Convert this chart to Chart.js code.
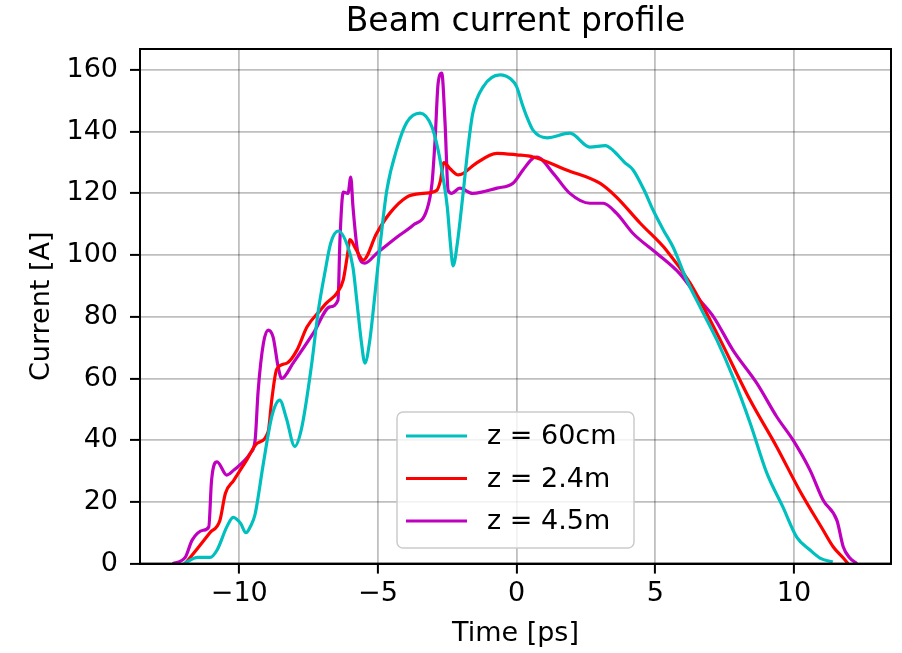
<!DOCTYPE html>
<html>
<head>
<meta charset="utf-8">
<script src="https://cdn.jsdelivr.net/npm/chart.js@4.4.1/dist/chart.umd.min.js"></script>
<style>
  html, body { margin: 0; padding: 0; background: #fff; }
</style>
</head>
<body>
<canvas id="beamChart" width="902" height="653"></canvas>
<script>
// time [ps] and current [A], one pair of arrays per z position
const time60cm = [-12.0, -11.5, -11.05, -10.8, -10.45, -10.22, -9.95, -9.76, -9.6, -9.43, -9.14, -8.82, -8.54, -8.3, -8.0, -7.75, -7.4, -7.15, -6.9, -6.7, -6.43, -6.08, -5.9, -5.76, -5.6, -5.47, -5.3, -5.1, -4.9, -4.68, -4.3, -3.96, -3.48, -3.05, -2.83, -2.65, -2.5, -2.38, -2.29, -2.15, -1.93, -1.75, -1.58, -1.2, -0.6, -0.2, 0.0, 0.2, 0.37, 0.59, 1.1, 1.92, 2.64, 3.2, 3.47, 3.9, 4.2, 4.6, 4.92, 5.3, 5.64, 6.13, 6.61, 7.22, 7.8, 8.42, 9.02, 9.6, 10.1, 10.58, 10.94, 11.4];
const current60cm = [0, 2, 2, 4.4, 11.9, 15, 13, 10, 12, 16, 32, 48, 53, 47, 38, 44, 64, 82, 95, 104, 107.8, 102.6, 96, 85, 72, 65, 72, 88, 105, 121, 135, 143, 146, 141.5, 134, 125, 115.6, 103, 96.5, 103, 120, 135, 146, 154.6, 158.4, 157, 154.6, 149, 144.8, 140.5, 138, 139.5, 135, 135.5, 134, 130, 127.6, 121, 114.6, 108, 102.6, 92, 83.3, 72.5, 60.5, 45.6, 29.4, 18.4, 8.6, 4.4, 1.8, 0.5];

const time2_4m = [-11.95, -11.5, -11.06, -10.7, -10.5, -10.2, -9.73, -9.36, -8.96, -8.83, -8.65, -8.28, -7.92, -7.56, -7.09, -6.85, -6.48, -6.25, -6.1, -6.01, -5.8, -5.53, -5.05, -4.57, -3.96, -3.37, -2.88, -2.75, -2.62, -2.4, -2.1, -1.92, -1.5, -0.71, 0.0, 0.6, 1.8, 3.0, 3.6, 4.45, 5.4, 6.25, 7.22, 8.42, 9.38, 10.2, 11.05, 11.42, 11.78, 11.95];
const current2_4m = [0, 5, 10, 14, 22.8, 27, 33.6, 39, 42.7, 53, 63, 65, 69.2, 76.7, 82, 84.5, 87.7, 92, 100, 105, 102, 98.4, 107, 113.6, 118.8, 120, 121, 124, 130, 128, 126, 126.5, 129.5, 133, 132.5, 131.8, 127.6, 123.3, 118.8, 110.4, 101.6, 91, 74.7, 53, 37.8, 23.8, 10.9, 5.4, 1.8, 0];

const time4_5m = [-12.4, -11.95, -11.7, -11.3, -11.1, -11.0, -10.8, -10.45, -10.2, -9.6, -9.43, -9.32, -9.13, -8.96, -8.78, -8.6, -8.47, -8.06, -7.33, -6.73, -6.44, -6.37, -6.25, -6.08, -5.98, -5.9, -5.72, -5.47, -5.04, -4.32, -3.73, -3.24, -3.05, -2.94, -2.83, -2.7, -2.58, -2.47, -2.34, -2.05, -1.58, -0.71, -0.13, 0.23, 0.6, 0.73, 1.32, 1.92, 2.64, 3.12, 3.6, 4.2, 5.05, 5.88, 6.61, 7.1, 7.8, 8.66, 9.38, 9.97, 10.58, 11.05, 11.55, 11.78, 12.0, 12.27];
const current4_5m = [0, 2, 7.6, 10.8, 11.9, 27, 33, 28.7, 30.3, 35.8, 40, 56, 71.4, 75.7, 73.4, 63.8, 60, 65, 74.7, 83.2, 85.4, 105, 120.4, 120, 125.3, 115.6, 100.6, 97.4, 100.6, 105.8, 109.7, 114.6, 123.3, 137.3, 155.7, 159, 142.8, 121, 120, 121.7, 120, 121.7, 123.3, 127.6, 131.5, 131.8, 126.5, 120, 116.8, 116.8, 113.6, 107, 100.6, 94, 85.4, 80, 69.2, 58.5, 47.6, 40, 30.3, 20.6, 14, 5.4, 2, 0];

const seriesLabels = ["z = 60cm", "z = 2.4m", "z = 4.5m"];
const xTicks = [-10, -5, 0, 5, 10];
const yTicks = [0, 20, 40, 60, 80, 100, 120, 140, 160];

const colors = ["#00bfbf", "#ff0000", "#bf00bf"];
const FONT = "DejaVu Sans";

const toPoints = (ts, is) => ts.map((t, i) => ({ x: t, y: is[i] }));

// matplotlib style frame, title and legend box
const decorations = {
    id: "decorations",
    afterDraw(chart) {
        const { ctx, chartArea: a } = chart;
        ctx.save();
        ctx.strokeStyle = "#000";
        ctx.lineWidth = 2;
        ctx.strokeRect(a.left, a.top, a.right - a.left, a.bottom - a.top);

        ctx.fillStyle = "#000";
        ctx.font = "33px '" + FONT + "'";
        ctx.textAlign = "center";
        ctx.textBaseline = "alphabetic";
        ctx.fillText("Beam current profile", (a.left + a.right) / 2, 31);

        // legend
        ctx.beginPath();
        ctx.roundRect(397, 412, 237, 136, 6);
        ctx.fillStyle = "rgba(255,255,255,0.8)";
        ctx.fill();
        ctx.strokeStyle = "#cccccc";
        ctx.lineWidth = 1.5;
        ctx.stroke();
        ctx.font = "27px '" + FONT + "'";
        ctx.textAlign = "left";
        ctx.textBaseline = "middle";
        chart.data.datasets.forEach((ds, i) => {
            const y = 436 + i * 42.5;
            ctx.strokeStyle = ds.borderColor;
            ctx.lineWidth = 3;
            ctx.beginPath();
            ctx.moveTo(406, y);
            ctx.lineTo(467, y);
            ctx.stroke();
            ctx.fillStyle = "#000";
            ctx.fillText(ds.label, 487, y + 1);
        });
        ctx.restore();
    }
};

const minus = v => (v < 0 ? "\u2212" + Math.abs(v) : String(v));

new Chart(document.getElementById("beamChart"), {
    type: "line",
    data: {
        datasets: [
            { label: seriesLabels[0], data: toPoints(time60cm, current60cm), borderColor: colors[0] },
            { label: seriesLabels[1], data: toPoints(time2_4m, current2_4m), borderColor: colors[1] },
            { label: seriesLabels[2], data: toPoints(time4_5m, current4_5m), borderColor: colors[2] }
        ]
    },
    options: {
        responsive: false,
        animation: false,
        devicePixelRatio: 1,
        layout: { padding: { top: 49, right: 11, left: 0, bottom: 0 } },
        elements: {
            point: { radius: 0 },
            line: { borderWidth: 3.2, cubicInterpolationMode: "monotone", fill: false }
        },
        plugins: {
            legend: { display: false },
            title: { display: false },
            tooltip: { enabled: false }
        },
        scales: {
            x: {
                type: "linear",
                min: -13.58,
                max: 13.5,
                afterBuildTicks: s => { s.ticks = xTicks.map(v => ({ value: v })); },
                afterFit: s => { s.height = 89.4; },
                ticks: {
                    color: "#000",
                    font: { family: FONT, size: 27 },
                    padding: 4,
                    maxRotation: 0,
                    callback: v => minus(v)
                },
                grid: {
                    color: "rgba(0,0,0,0.25)",
                    lineWidth: 1.8,
                    tickColor: "#000",
                    tickLength: 10,
                    tickWidth: 2
                },
                border: { display: true, color: "#000", width: 2 },
                title: {
                    display: true,
                    text: "Time [ps]",
                    color: "#000",
                    font: { family: FONT, size: 27 },
                    padding: { top: 0, bottom: 3 }
                }
            },
            y: {
                min: 0,
                max: 166.8,
                afterBuildTicks: s => { s.ticks = yTicks.map(v => ({ value: v })); },
                afterFit: s => { s.width = 140; },
                ticks: {
                    color: "#000",
                    font: { family: FONT, size: 27 },
                    padding: 12,
                    callback: v => String(v)
                },
                grid: {
                    color: "rgba(0,0,0,0.25)",
                    lineWidth: 1.8,
                    tickColor: "#000",
                    tickLength: 10,
                    tickWidth: 2
                },
                border: { display: true, color: "#000", width: 2 },
                title: {
                    display: true,
                    text: "Current [A]",
                    color: "#000",
                    font: { family: FONT, size: 27 },
                    padding: { top: 26, bottom: 0 }
                }
            }
        }
    },
    plugins: [decorations]
});
</script>
</body>
</html>
